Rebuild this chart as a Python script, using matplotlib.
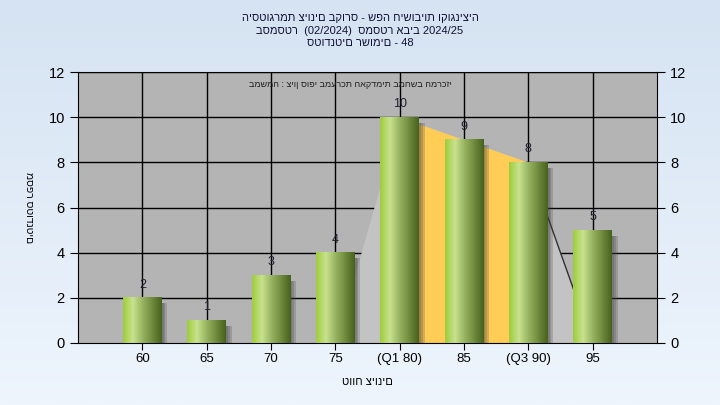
import numpy as np
import matplotlib.pyplot as plt
from matplotlib.colors import LinearSegmentedColormap
from matplotlib.patches import Rectangle

plt.rcParams['font.family'] = ['Liberation Sans', 'DejaVu Sans']

title_lines = ['היסטוגרמת ציונים בקורס - שפה חישוביות וקוגניציה',
               'בסמסטר  (02/2024)  סמסטר אביב 2024/25',
               'סטודנטים רשומים - 48']
note = 'במשמה : ציון סופי במערכת האקדמית במחשב המרכזי'
xlab = 'טווח ציונים'
ylab = 'מספר סטודנטים'

categories = ['60', '65', '70', '75', '(Q1 80)', '85', '(Q3 90)', '95']
counts = [2, 1, 3, 4, 10, 9, 8, 5]
q1 = 4
q3 = 6
yticks = [0, 2, 4, 6, 8, 10, 12]

fig = plt.figure(figsize=(7.2, 4.05), dpi=100)

# background gradient
bg = fig.add_axes([0, 0, 1, 1], zorder=-10)
g = np.linspace(0, 1, 256).reshape(-1, 1)
bg_cmap = LinearSegmentedColormap.from_list('bg', ['#d5e3f2', '#eef5fd'])
bg.imshow(g, aspect='auto', cmap=bg_cmap, extent=[0, 1, 0, 1])
bg.axis('off')

ax = fig.add_axes([78 / 720, 1 - 343 / 405, 579 / 720, 271 / 405])
ax.set_facecolor('#b4b4b4')

x = np.arange(len(categories))
w = 0.6

# grid
for yv in yticks[1:]:
    ax.axhline(yv, color='black', lw=1, zorder=0.5)
for xv in x:
    ax.axvline(xv, color='black', lw=1, zorder=0.5)

# area from 75 to 95 and Q1..Q3 band
ax_x = [q1 - 1] + list(x[q1:q3 + 1]) + [q3 + 1]
ax_y = [0] + counts[q1:q3 + 1] + [0]
ax.fill_between(ax_x, ax_y, color='#c3c3c3', lw=0, zorder=1)
ax.fill_between(x[q1:q3 + 1], counts[q1:q3 + 1], color='#ffcc55', lw=0, zorder=1.2)
ax.plot(ax_x[-2:], ax_y[-2:], color='#303030', lw=1, zorder=1.3)

# bars with gradient and shadow
bar_cmap = LinearSegmentedColormap.from_list(
    'bar', [(0, '#9ecd3e'), (0.25, '#c9e28e'), (0.55, '#8fac5a'), (1, '#48621c')])
grad = np.linspace(0, 1, 64).reshape(1, -1)
for xi, c in zip(x, counts):
    for off in [0.03, 0.06, 0.09]:
        ax.add_patch(Rectangle((xi - w / 2 + off, 0), w, c - 0.25, color='#404040',
                               alpha=0.22, lw=0, zorder=2))
    ax.imshow(grad, extent=[xi - w / 2, xi + w / 2, 0, c], aspect='auto',
              cmap=bar_cmap, zorder=3)
    ax.annotate(str(c), (xi, c), xytext=(0, 5), textcoords='offset points',
                ha='center', va='bottom', fontsize=9, color='#202030', zorder=4)

ax.set_xlim(-1, 8)
ax.set_ylim(0, 12)
ax.set_xticks(x)
ax.set_xticklabels(categories, fontsize=9.5)
ax.set_yticks(yticks)
ax.tick_params(axis='y', labelsize=10.5, length=6, right=True, labelright=True)
ax.tick_params(axis='x', length=5, pad=2)
for s in ax.spines.values():
    s.set_color('black')

ax.set_xlabel(xlab, fontsize=8, labelpad=9)
ax.set_ylabel(ylab, fontsize=7.5, rotation=-90, va='center')
ax.yaxis.set_label_coords(-0.085, 0.5)

ax.text(0.47, 0.955, note, transform=ax.transAxes, ha='center', va='center',
        fontsize=6.5, color='#202020')

for i, t in enumerate(title_lines):
    fig.text(0.5, 1 - (18 + 12.5 * i) / 405, t, ha='center', va='center',
             fontsize=8, color='#111133')

fig.savefig('out.png', dpi=100)
